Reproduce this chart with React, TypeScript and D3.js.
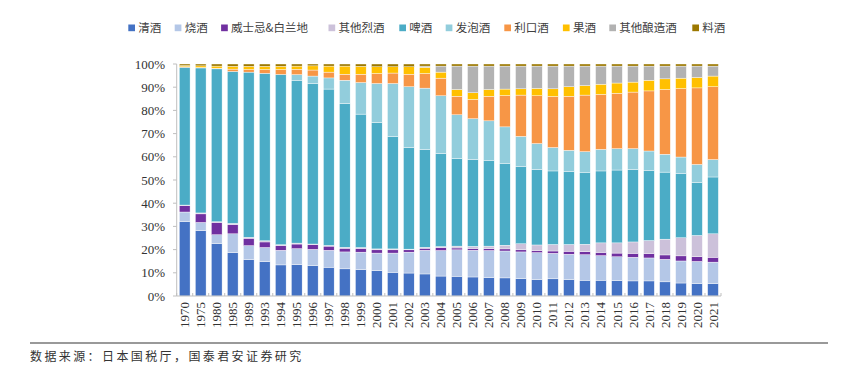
import React from "react";
import * as d3 from "d3";

const years = ["1970","1975","1980","1985","1989","1993","1994","1995","1996","1997","1998","1999","2000","2001","2002","2003","2004","2005","2006","2007","2008","2009","2010","2011","2012","2013","2014","2015","2016","2017","2018","2019","2020","2021"];

const seriesNames = ["清酒","烧酒","威士忌&白兰地","其他烈酒","啤酒","发泡酒","利口酒","果酒","其他酿造酒","料酒"];

const qingjiu = [32.1,28.2,22.6,18.7,15.7,14.8,13.4,13.5,13.1,12.4,11.7,11.4,10.9,10.2,9.9,9.5,8.6,8.5,8.2,7.9,7.8,7.5,7.0,7.4,7.1,6.8,6.8,6.6,6.5,6.5,6.1,5.6,5.3,5.3];
const shaojiu = [4.1,3.5,3.8,8.1,6.0,6.1,6.3,6.9,7.0,7.3,7.3,7.5,7.6,8.3,9.0,10.2,11.0,11.4,11.5,11.7,11.6,11.5,11.7,11.0,10.9,11.0,10.6,10.3,10.2,9.9,9.7,9.5,9.6,9.3];
const whisky = [2.7,3.7,5.3,4.0,3.2,2.4,2.0,2.0,2.0,1.8,1.6,1.6,1.4,1.4,1.0,0.9,1.2,0.8,0.8,0.8,0.9,0.9,0.9,1.0,1.3,1.3,1.4,1.6,1.7,1.9,1.9,2.2,2.0,2.1];
const otherSpirits = [0.3,0.4,0.3,0.5,0.4,0.5,0.4,0.4,0.3,0.3,0.4,0.4,0.4,0.4,0.3,0.4,0.5,0.8,0.9,1.1,1.6,2.6,2.4,2.8,2.9,3.2,4.1,4.4,4.9,5.6,6.8,7.8,9.2,10.1];
const beer = [59.4,62.5,65.9,65.5,71.2,72.2,73.4,70.2,69.2,67.4,62.0,57.5,54.5,48.4,43.8,42.1,40.1,37.7,37.4,36.8,35.1,33.4,32.5,31.7,31.5,30.8,31.0,31.4,31.3,30.3,28.9,27.8,22.9,24.5];
const happoshu = [0,0,0,0,0,0,0,2.4,3.2,4.8,10.0,13.6,16.8,22.9,26.2,26.5,24.9,18.9,17.6,17.2,15.9,12.9,11.2,10.1,9.1,9.1,9.3,9.2,8.9,8.3,7.7,7.0,7.7,7.5];
const liqueur = [0.2,0.2,0.3,1.0,1.1,1.6,2.1,2.3,2.6,2.5,2.6,3.6,4.3,4.5,5.4,6.3,7.6,8.0,8.3,10.6,13.5,17.8,20.6,22.0,23.3,24.4,23.7,23.9,24.4,25.9,27.9,29.5,33.0,31.4];
const fruitWine = [0.5,0.7,0.9,1.2,1.4,1.4,1.4,1.4,1.8,2.6,3.5,3.4,2.9,2.7,3.2,2.7,2.6,2.9,2.9,2.9,2.8,2.7,3.2,3.3,4.1,4.1,4.4,4.4,4.3,4.6,4.6,4.5,4.5,4.6];
const otherBrewed = [0,0,0,0,0,0,0,0,0,0,0,0,0,0,0,0.5,2.6,10.1,11.5,10.1,9.9,9.8,9.6,9.8,8.9,8.4,7.8,7.3,6.9,6.1,5.5,5.2,4.9,4.3];
const mirin = [0.7,0.8,0.9,1.0,1.0,1.0,1.0,0.9,0.8,0.9,0.9,1.0,1.2,1.2,1.2,0.9,0.9,0.9,0.9,0.9,0.9,0.9,0.9,0.9,0.9,0.9,0.9,0.9,0.9,0.9,0.9,0.9,0.9,0.9];

const yTickValues = [0,0.1,0.2,0.3,0.4,0.5,0.6,0.7,0.8,0.9,1.0];

const colors = ["#4472C4","#B4C7E7","#7030A0","#CCC1DA","#4BACC6","#92CDDC","#F79646","#FFC000","#B2B2B2","#9C7800"];

const sourceText = "数据来源：日本国税厅，国泰君安证券研究";

export default function App() {
  const W = 846, H = 369;
  const allSeries = [qingjiu, shaojiu, whisky, otherSpirits, beer, happoshu, liqueur, fruitWine, otherBrewed, mirin];
  const table = years.map((y, i) => {
    const row: any = { year: y };
    seriesNames.forEach((s, k) => { row[s] = allSeries[k][i]; });
    return row;
  });
  const stack = d3.stack<any>().keys(seriesNames).offset(d3.stackOffsetExpand);
  const layers = stack(table);

  const x = d3.scaleBand<string>().domain(years).range([176.7, 721]).paddingInner(0.33).paddingOuter(0.165);
  const y = d3.scaleLinear().domain([0, 1]).range([296, 64]);
  const fmt = d3.format(".0%");

  // legend layout
  const legendFont = 11.5;
  const charW = 12.2;
  let lx = 128.3;
  const legendItems = seriesNames.map((s, k) => {
    const item = { s, k, x: lx };
    lx += 22 + charW * Array.from(s).length;
    return item;
  });

  const step = x.step();
  const boundaries = years.map((yr) => (x(yr) as number) - (step - x.bandwidth()) / 2);
  boundaries.push(721);

  return (
    <div style={{ position: "absolute", left: 0, top: 0 }}>
      <svg width={W} height={H} style={{ display: "block", background: "#fff" }}>
        <rect width={W} height={H} fill="#fff" />
        {/* legend */}
        {legendItems.map((it) => (
          <g key={it.s}>
            <rect x={it.x} y={24.5} width={6.7} height={6.7} fill={colors[it.k]} />
            <text x={it.x + 10} y={27.9} dy="0.35em" fontSize={legendFont} fontFamily="'Noto Sans CJK SC', sans-serif" fill="#404040">{it.s}</text>
          </g>
        ))}
        {/* bars */}
        {layers.map((layer, k) => (
          <g key={layer.key} fill={colors[k]}>
            {layer.map((d, i) => {
              const h = y(d[0]) - y(d[1]);
              if (h <= 0) return null;
              return (
                <rect key={years[i]} x={x(years[i])} y={y(d[1])} width={x.bandwidth()} height={h} stroke="#ffffff" strokeWidth={0.4} />
              );
            })}
          </g>
        ))}
        {/* y axis */}
        <line x1={176.7} x2={176.7} y1={64} y2={296} stroke="#BFBFBF" strokeWidth={1} />
        {yTickValues.map((t) => (
          <g key={t}>
            <line x1={173} x2={176.7} y1={y(t)} y2={y(t)} stroke="#BFBFBF" />
            <text x={165} y={y(t)} dy="0.35em" textAnchor="end" fontSize={13} fontFamily="'Liberation Serif', serif" fill="#333">{fmt(t)}</text>
          </g>
        ))}
        {/* x axis */}
        <line x1={176.7} x2={721} y1={296} y2={296} stroke="#BFBFBF" strokeWidth={1} />
        {boundaries.map((b, i) => (
          <line key={i} x1={b} x2={b} y1={293} y2={296} stroke="#BFBFBF" />
        ))}
        {years.map((yr) => {
          const cx = (x(yr) as number) + x.bandwidth() / 2;
          return (
            <text key={yr} transform={`translate(${cx},302) rotate(-90)`} dy="0.35em" textAnchor="end" fontSize={13} fontFamily="'Liberation Serif', serif" fill="#333">{yr}</text>
          );
        })}
        {/* footer */}
        <line x1={30} x2={828} y1={343} y2={343} stroke="#999" strokeWidth={2} />
        <text x={30} y={357} dy="0.35em" fontSize={12} letterSpacing={2.4} fontFamily="'Noto Sans CJK SC', sans-serif" fill="#333">{sourceText}</text>
      </svg>
    </div>
  );
}
